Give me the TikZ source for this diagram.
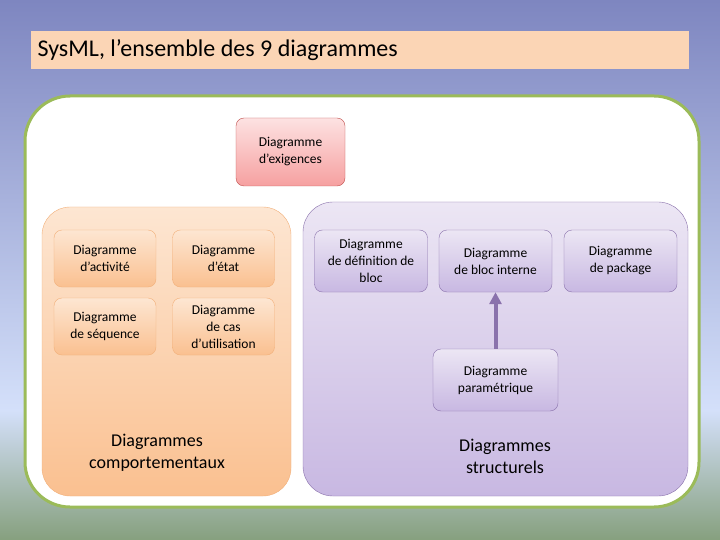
\documentclass[tikz,border=0pt]{standalone}
\usepackage{fontspec}
\setmainfont{Carlito}
\usetikzlibrary{arrows.meta}

\definecolor{bgtop}{HTML}{7E86C0}
\definecolor{bglight}{HTML}{D4E0FA}
\definecolor{bgbot}{HTML}{86A07E}
\definecolor{titlefill}{HTML}{FBD5B5}
\definecolor{framegreen}{HTML}{9BBB59}
\definecolor{orangetop}{HTML}{FDE6D2}
\definecolor{orangebot}{HTML}{FAC090}
\definecolor{orangeline}{HTML}{F2B07A}
\definecolor{violettop}{HTML}{ECE6F4}
\definecolor{violetbot}{HTML}{C8B8E2}
\definecolor{violetline}{HTML}{8A72AC}
\definecolor{pinktop}{HTML}{FDE2E2}
\definecolor{pinkbot}{HTML}{F6A0A0}
\definecolor{pinkline}{HTML}{C0504D}

\pgfdeclareverticalshading{bgshade}{100bp}{color(0bp)=(bgbot); color(25bp)=(bgbot); color(37bp)=(bglight); color(75bp)=(bgtop); color(100bp)=(bgtop)}

\tikzset{
  diag/.style={rounded corners=8pt, align=center, inner sep=2pt,
    font=\fontsize{13.5}{17}\selectfont},
  compdiag/.style={diag, draw=orangeline, top color=orangetop, bottom color=orangebot,
    minimum width=102pt, minimum height=57pt},
  structdiag/.style={diag, draw=violetline, top color=violettop, bottom color=violetbot,
    minimum width=113pt, minimum height=62pt},
  groupbox/.style={rounded corners=28pt, inner sep=0pt},
  grouplabel/.style={align=center, font=\fontsize{18}{22}\selectfont}
}

\begin{document}
\begin{tikzpicture}[x=1pt,y=-1pt]
  \useasboundingbox (0,0) rectangle (720,540);
  % fond
  \shade[shading=bgshade] (0,0) rectangle (720,540);
  % titre
  \node[fill=titlefill, minimum width=658pt, minimum height=38pt, inner sep=0pt,
    anchor=north west] (bandeau) at (31,31) {};
  \node[anchor=west, font=\fontsize{24}{28}\selectfont] (titre) at (34,50)
    {SysML, l’ensemble des 9 diagrammes};
  % cadre vert
  \draw[framegreen, line width=3pt, fill=white, rounded corners=45pt]
    (25,96) rectangle (699,507);
  % exigences
  \node[diag, draw=pinkline, top color=pinktop, bottom color=pinkbot,
    minimum width=109pt, minimum height=68pt] (exig) at (290.5,152) {Diagramme\\d’exigences};
  % groupe comportemental
  \node[groupbox, draw=orangeline, top color=orangetop, bottom color=orangebot,
    minimum width=249pt, minimum height=289pt] (comport) at (166.5,351.5) {};
  \node[compdiag] (activite) at (105,258.5) {Diagramme\\d’activité};
  \node[compdiag] (etat) at (223.5,258.5) {Diagramme\\d’état};
  \node[compdiag] (sequence) at (105,326.5) {Diagramme\\de séquence};
  \node[compdiag] (cas) at (223.5,326.5) {Diagramme\\de cas\\d’utilisation};
  \node[grouplabel] (lblcomport) at (157,453) {Diagrammes\\comportementaux};
  % groupe structurel
  \node[groupbox, rounded corners=30pt, draw=violetline, top color=violettop,
    bottom color=violetbot, minimum width=385pt, minimum height=294pt] (struct) at (495.5,349) {};
  \node[structdiag] (defbloc) at (371,261) {Diagramme\\de définition de\\bloc};
  \node[structdiag] (blocint) at (495.5,261) {Diagramme\\de bloc interne};
  \node[structdiag] (package) at (620.5,261) {Diagramme\\de package};
  \node[structdiag, minimum width=125pt] (param) at (495.5,380) {Diagramme\\paramétrique};
  \node[grouplabel] (lblstruct) at (505,456) {Diagrammes\\structurels};
  % lien
  \draw[violetline, line width=4pt, -{Triangle[length=12pt,width=12pt]}] (param) -- (blocint);
\end{tikzpicture}
\end{document}
